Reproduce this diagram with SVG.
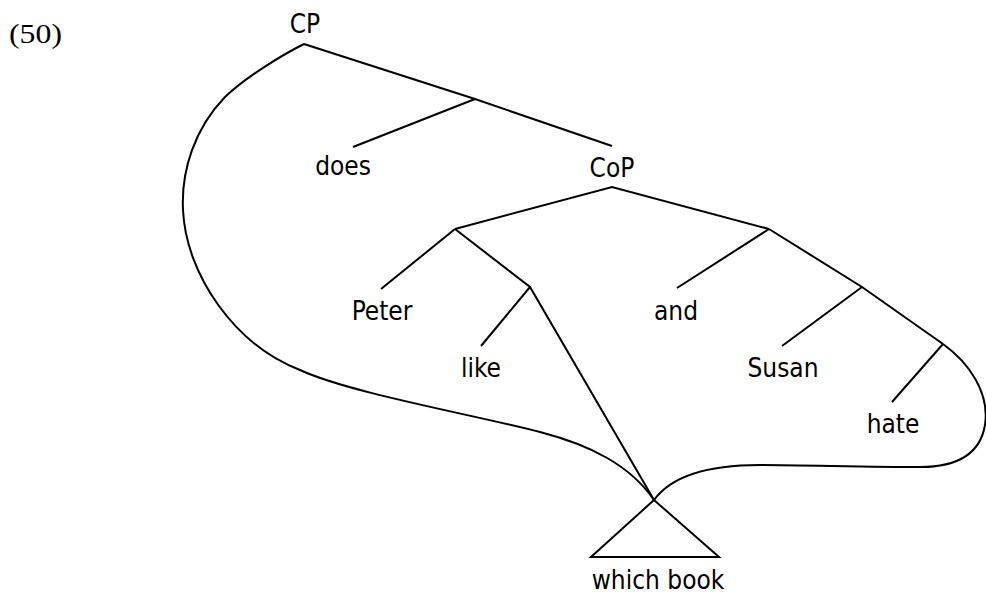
<svg xmlns="http://www.w3.org/2000/svg" width="986" height="596" viewBox="0 0 986 596">
<style>
.lbl{font-family:"DejaVu Sans Condensed","DejaVu Sans",sans-serif;font-stretch:condensed;font-size:26px;fill:#000;text-anchor:middle}
.num{font-family:"Liberation Serif","Times New Roman",serif;font-size:28px;fill:#000}
.e{stroke:#000;stroke-width:2;fill:none;stroke-linecap:butt;stroke-linejoin:miter}
</style>
<rect width="986" height="596" fill="#fff"/>
<text class="num" x="9" y="43" textLength="53" lengthAdjust="spacingAndGlyphs">(50)</text>
<g id="connectors">
<polyline class="e" points="304,44 475,99 612,146"/>
<line class="e" x1="475" y1="99" x2="353" y2="147"/>
<polyline class="e" points="455,229 612,187 769,229"/>
<line class="e" x1="455" y1="229" x2="381" y2="289"/>
<polyline class="e" points="455,229 530,287 654,500"/>
<line class="e" x1="530" y1="287" x2="481" y2="346"/>
<line class="e" x1="769" y1="229" x2="677" y2="288"/>
<polyline class="e" points="769,229 862,287 943,344"/>
<line class="e" x1="862" y1="287" x2="782" y2="346"/>
<line class="e" x1="943" y1="344" x2="892" y2="402"/>
<path class="e" d="M304,44 C280,56 245,78 225,97 C195,128 181,170 183,210 C186,275 235,345 300,370 C350,393 470,414 540,432 C590,445 630,465 654,500"/>
<path class="e" d="M943,344 C968,362 990,392 985,425 C980,455 955,467 920,467 C870,467 800,465 760,465 C705,465 670,478 654,500"/>
</g>
<g id="node-CP"><text class="lbl" x="305" y="33">CP</text></g>
<g id="node-does"><text class="lbl" x="343" y="175">does</text></g>
<g id="node-CoP"><text class="lbl" x="612" y="177">CoP</text></g>
<g id="node-Peter"><text class="lbl" x="382" y="320">Peter</text></g>
<g id="node-like"><text class="lbl" x="481" y="377">like</text></g>
<g id="node-and"><text class="lbl" x="676" y="320">and</text></g>
<g id="node-Susan"><text class="lbl" x="783" y="377">Susan</text></g>
<g id="node-hate"><text class="lbl" x="893" y="433">hate</text></g>
<g id="node-whichbook">
<polygon class="e" points="654,500 591,557 719,557"/>
<text class="lbl" x="658" y="589">which book</text>
</g>
</svg>
